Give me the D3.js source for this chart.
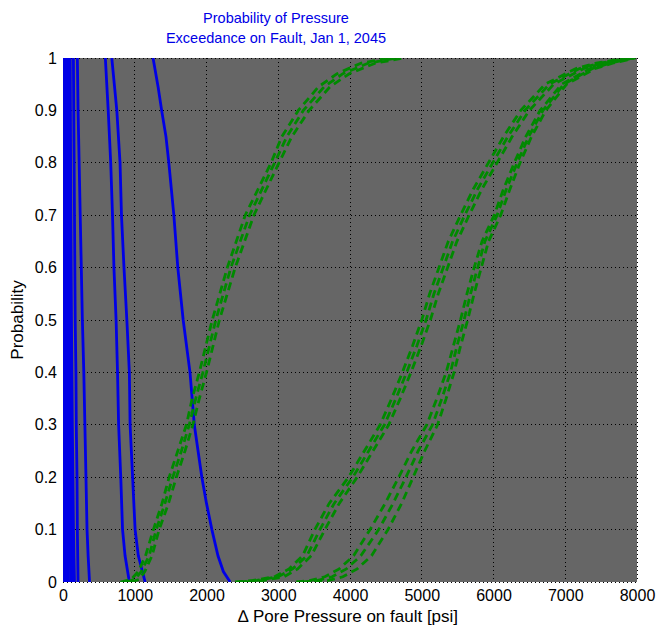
<!DOCTYPE html>
<html>
<head>
<meta charset="utf-8">
<script src="https://cdn.jsdelivr.net/npm/d3@7"></script>
<style>
  html, body { margin: 0; padding: 0; background: #ffffff; }
  svg { display: block; font-family: "Liberation Sans", Arial, sans-serif; }
</style>
</head>
<body>
<svg id="chart" width="657" height="628"></svg>
<script>
// ---------- data ----------
const titleLines = ["Probability of Pressure", "Exceedance on Fault, Jan 1, 2045"];
const xLabel = "\u2206 Pore Pressure on fault [psi]";
const yLabel = "Probability";
const xTicks = [0, 1000, 2000, 3000, 4000, 5000, 6000, 7000, 8000];
const yTicks = [0, 0.1, 0.2, 0.3, 0.4, 0.5, 0.6, 0.7, 0.8, 0.9, 1];

// Blue (solid) exceedance curves
const pBlue = [1, 0.9, 0.8, 0.7, 0.6, 0.5, 0.4, 0.3, 0.2, 0.1, 0.05, 0];
const blue1 = [5, 5, 8, 8, 10, 10, 12, 12, 15, 15, 18, 20];
const blue2 = [22, 24, 26, 28, 30, 32, 34, 36, 38, 40, 42, 45];
const blue3 = [42, 44, 46, 50, 52, 55, 58, 60, 64, 68, 72, 75];
const blue4 = [62, 64, 67, 70, 74, 77, 82, 86, 92, 97, 102, 108];
const blue5 = [82, 85, 88, 92, 96, 100, 105, 110, 118, 124, 130, 138];
const blue6 = [100, 103, 106, 110, 114, 118, 124, 130, 138, 146, 152, 160];
const blue7 = [145, 150, 155, 160, 165, 170, 180, 185, 195, 200, 205, 210];
const blue8 = [200, 210, 225, 240, 255, 270, 290, 305, 320, 335, 350, 370];
const blue9 = [590, 630, 665, 690, 710, 740, 760, 775, 805, 830, 865, 925];
const blue10 = [680, 750, 795, 815, 850, 890, 925, 935, 970, 1005, 1050, 1145];
const pBlue11 = [1, 0.945, 0.9, 0.85, 0.8, 0.7, 0.6, 0.5, 0.4, 0.3, 0.2, 0.15, 0.1, 0.05, 0.02, 0];
const blue11 = [1255, 1325, 1375, 1435, 1475, 1545, 1600, 1675, 1770, 1830, 1935, 2000, 2075, 2160, 2235, 2330];

// Green (dashed) cumulative curves, group A
const pGreenA = [0, 0.005, 0.02, 0.05, 0.1, 0.15, 0.2, 0.25, 0.3, 0.35, 0.4, 0.5, 0.6, 0.7, 0.8, 0.85, 0.9, 0.945, 0.97, 0.99, 1];
const greenA1 = [800, 950, 1050, 1150, 1260, 1380, 1480, 1600, 1720, 1800, 1900, 2080, 2290, 2540, 2900, 3050, 3280, 3560, 3820, 4150, 4550];
const greenA2 = [880, 1000, 1090, 1200, 1300, 1420, 1530, 1650, 1760, 1850, 1950, 2130, 2340, 2600, 2950, 3120, 3350, 3640, 3900, 4250, 4650];
const greenA3 = [950, 1060, 1140, 1240, 1340, 1470, 1580, 1700, 1810, 1900, 2000, 2180, 2400, 2660, 3010, 3190, 3430, 3720, 3990, 4350, 4750];

// Green groups B and C
const pGreenBC = [0, 0.003, 0.01, 0.025, 0.05, 0.1, 0.15, 0.2, 0.25, 0.3, 0.35, 0.4, 0.45, 0.5, 0.55, 0.6, 0.65, 0.7, 0.75, 0.8, 0.85, 0.9, 0.95, 0.98, 0.99, 1];
const greenB1 = [2400, 2650, 2950, 3150, 3340, 3510, 3710, 3980, 4200, 4420, 4580, 4730, 4870, 5000, 5110, 5240, 5370, 5540, 5720, 5930, 6140, 6380, 6720, 7150, 7430, 7850];
const greenB2 = [2450, 2700, 3000, 3200, 3400, 3580, 3780, 4040, 4260, 4480, 4640, 4790, 4930, 5060, 5170, 5300, 5430, 5600, 5780, 5990, 6200, 6440, 6780, 7200, 7480, 7900];
const greenB3 = [2550, 2800, 3080, 3270, 3460, 3650, 3850, 4100, 4320, 4540, 4700, 4850, 4990, 5120, 5230, 5360, 5490, 5660, 5840, 6050, 6260, 6500, 6840, 7260, 7530, 7950];
const greenC1 = [3250, 3450, 3650, 3850, 4050, 4280, 4490, 4680, 4860, 5070, 5210, 5340, 5440, 5540, 5630, 5730, 5840, 6010, 6140, 6290, 6450, 6650, 6950, 7350, 7600, 7930];
const greenC2 = [3350, 3550, 3750, 3950, 4150, 4400, 4600, 4780, 4950, 5150, 5280, 5400, 5490, 5590, 5680, 5780, 5880, 6050, 6180, 6330, 6490, 6690, 6980, 7380, 7620, 7950];
const greenC3 = [3500, 3700, 3900, 4100, 4300, 4530, 4720, 4880, 5040, 5220, 5340, 5450, 5540, 5640, 5730, 5830, 5930, 6100, 6230, 6370, 6530, 6730, 7020, 7420, 7660, 7980];

const blueSeries = [
  [blue1, pBlue], [blue2, pBlue], [blue3, pBlue], [blue4, pBlue], [blue5, pBlue],
  [blue6, pBlue], [blue7, pBlue], [blue8, pBlue], [blue9, pBlue], [blue10, pBlue],
  [blue11, pBlue11]
];
const greenSeries = [
  [greenA1, pGreenA], [greenA2, pGreenA], [greenA3, pGreenA],
  [greenB1, pGreenBC], [greenB2, pGreenBC], [greenB3, pGreenBC],
  [greenC1, pGreenBC], [greenC2, pGreenBC], [greenC3, pGreenBC]
];

// ---------- layout ----------
const margin = { left: 63, top: 58, right: 20, bottom: 46 };
const W = 657, H = 628;
const plotW = W - margin.left - margin.right; // 574
const plotH = H - margin.top - margin.bottom; // 524

const svg = d3.select("#chart");
const x = d3.scaleLinear().domain([0, 8000]).range([margin.left, margin.left + plotW]);
const y = d3.scaleLinear().domain([0, 1]).range([margin.top + plotH, margin.top]);

// plot background
svg.append("rect")
  .attr("x", margin.left).attr("y", margin.top)
  .attr("width", plotW).attr("height", plotH)
  .attr("fill", "#666666");

// grid
const grid = svg.append("g");
grid.selectAll("line.vx").data(xTicks).join("line")
  .attr("x1", d => x(d)).attr("x2", d => x(d))
  .attr("y1", margin.top).attr("y2", margin.top + plotH)
  .attr("stroke", "#000").attr("stroke-width", 1)
  .attr("stroke-dasharray", "1,3").attr("shape-rendering", "crispEdges");
grid.selectAll("line.hy").data(yTicks).join("line")
  .attr("y1", d => y(d)).attr("y2", d => y(d))
  .attr("x1", margin.left).attr("x2", margin.left + plotW)
  .attr("stroke", "#000").attr("stroke-width", 1)
  .attr("stroke-dasharray", "1,3").attr("shape-rendering", "crispEdges");

// clip
svg.append("clipPath").attr("id", "clip").append("rect")
  .attr("x", margin.left).attr("y", margin.top)
  .attr("width", plotW).attr("height", plotH);

const lineGen = d3.line().x(d => x(d[0])).y(d => y(d[1]));
const toPts = ([xs, ps]) => xs.map((v, i) => [v, ps[i]]);

const lines = svg.append("g").attr("clip-path", "url(#clip)");
lines.selectAll("path.blue").data(blueSeries).join("path")
  .attr("d", s => lineGen(toPts(s)))
  .attr("fill", "none").attr("stroke", "#0000e6").attr("stroke-width", 2.8);
lines.selectAll("path.green").data(greenSeries).join("path")
  .attr("d", s => lineGen(toPts(s)))
  .attr("fill", "none").attr("stroke", "#008a00").attr("stroke-width", 2.8)
  .attr("stroke-dasharray", "8,5");

// axes
const xAxis = d3.axisBottom(x).tickValues(xTicks).tickSize(0).tickPadding(8).tickFormat(d3.format("d"));
const yAxis = d3.axisLeft(y).tickValues(yTicks).tickSize(0).tickPadding(6).tickFormat(d => d === 0 ? "0" : d === 1 ? "1" : d3.format(".1f")(d));
const gx = svg.append("g").attr("transform", `translate(0,${margin.top + plotH})`).call(xAxis);
const gy = svg.append("g").attr("transform", `translate(${margin.left},0)`).call(yAxis);
[gx, gy].forEach(g => {
  g.select(".domain").remove();
  g.selectAll("text").attr("font-size", 16).attr("fill", "#000")
    .attr("font-family", "'Liberation Sans', Arial, sans-serif");
});

// titles
svg.append("g").selectAll("text").data(titleLines).join("text")
  .attr("x", 276).attr("y", (d, i) => 23 + i * 20)
  .attr("text-anchor", "middle").attr("font-size", 14.5).attr("fill", "#0000e6")
  .text(d => d);

svg.append("text")
  .attr("x", 348).attr("y", 622)
  .attr("text-anchor", "middle").attr("font-size", 17).attr("fill", "#000")
  .text(xLabel);

svg.append("text")
  .attr("transform", `translate(23,${margin.top + plotH / 2}) rotate(-90)`)
  .attr("text-anchor", "middle").attr("font-size", 17).attr("fill", "#000")
  .text(yLabel);
</script>
</body>
</html>
